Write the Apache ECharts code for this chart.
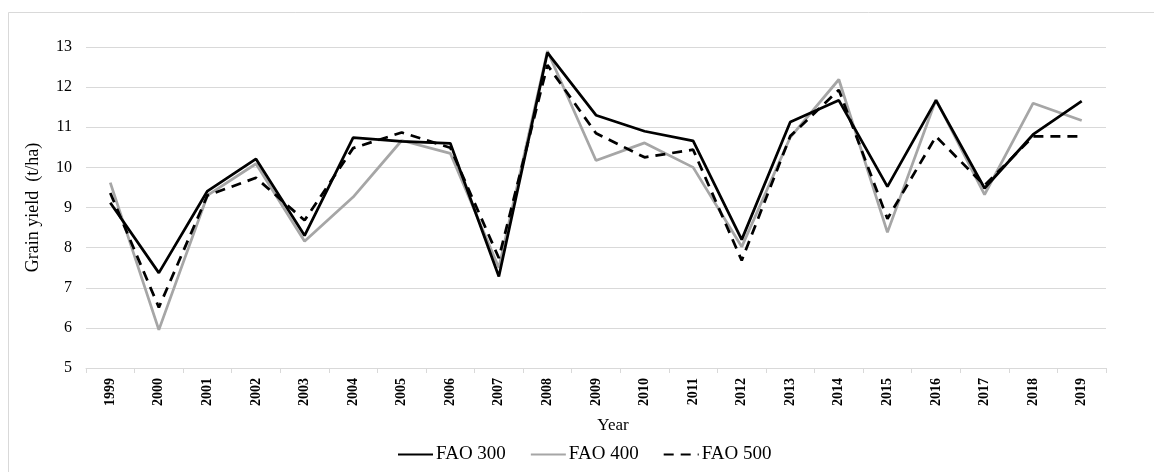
<!DOCTYPE html>
<html>
<head>
<meta charset="utf-8">
<script src="https://cdn.jsdelivr.net/npm/echarts@6/dist/echarts.min.js"></script>
<style>
html,body{margin:0;padding:0;background:#fff;}
#chart{width:1154px;height:472px;}
</style>
</head>
<body>
<div id="chart"></div>
<script>
const years = ['1999','2000','2001','2002','2003','2004','2005','2006','2007','2008','2009','2010','2011','2012','2013','2014','2015','2016','2017','2018','2019'];
const fao300 = [9.12, 7.37, 9.41, 10.21, 8.30, 10.74, 10.65, 10.60, 7.28, 12.86, 11.30, 10.90, 10.66, 8.20, 11.13, 11.67, 9.52, 11.67, 9.48, 10.82, 11.65];
const fao400 = [9.62, 5.95, 9.30, 10.09, 8.16, 9.26, 10.67, 10.35, 7.50, 12.90, 10.17, 10.61, 10.00, 8.02, 10.75, 12.19, 8.38, 11.69, 9.32, 11.60, 11.17];
const fao500 = [9.36, 6.51, 9.30, 9.74, 8.68, 10.48, 10.87, 10.49, 7.74, 12.55, 10.85, 10.25, 10.44, 7.68, 10.78, 11.93, 8.72, 10.77, 9.55, 10.77, 10.77];
const yTicks = {min: 5, max: 13, interval: 1};

const chart = echarts.init(document.getElementById('chart'));
const serif = '"Liberation Serif", "DejaVu Serif", serif';
chart.setOption({
  animation: false,
  backgroundColor: '#fff',
  textStyle: {fontFamily: serif},
  graphic: [
    {type: 'rect', shape: {x: 8.5, y: 12.5, width: 1160, height: 480}, style: {fill: 'none', stroke: '#d9d9d9', lineWidth: 1}, silent: true}
  ],
  grid: {left: 86, right: 48, top: 47, bottom: 104},
  legend: {
    left: 392, top: 440,
    itemWidth: 35, itemHeight: 14, itemGap: 24,
    itemStyle: {opacity: 0},
    textStyle: {fontFamily: serif, fontSize: 19, color: '#000', padding: [0,0,0,-2]},
    data: ['FAO 300', 'FAO 400', 'FAO 500']
  },
  xAxis: {
    type: 'category',
    data: years,
    boundaryGap: true,
    name: 'Year',
    nameLocation: 'middle',
    nameGap: 49,
    nameTextStyle: {fontFamily: serif, fontSize: 17, color: '#000', padding: [0,0,0,34]},
    axisLine: {lineStyle: {color: '#d9d9d9', width: 1}},
    axisTick: {show: true, length: 5, lineStyle: {color: '#d9d9d9'}},
    axisLabel: {rotate: 90, fontFamily: serif, fontWeight: 'bold', fontSize: 14, color: '#000', margin: 10}
  },
  yAxis: {
    type: 'value',
    min: yTicks.min, max: yTicks.max, interval: yTicks.interval,
    name: 'Grain yield  (t/ha)',
    nameLocation: 'middle',
    nameGap: 44,
    nameTextStyle: {fontFamily: serif, fontSize: 18, color: '#000'},
    axisLine: {show: false},
    axisTick: {show: false},
    splitLine: {lineStyle: {color: '#d9d9d9', width: 1}},
    axisLabel: {fontFamily: serif, fontSize: 16, color: '#000', margin: 14}
  },
  series: [
    {name: 'FAO 300', type: 'line', data: fao300, symbol: 'none', lineStyle: {color: '#000', width: 2.75}, itemStyle: {color: '#000'}, z: 3},
    {name: 'FAO 400', type: 'line', data: fao400, symbol: 'none', lineStyle: {color: '#a6a6a6', width: 2.75}, itemStyle: {color: '#a6a6a6'}, z: 2},
    {name: 'FAO 500', type: 'line', data: fao500, symbol: 'none', lineStyle: {color: '#000', width: 2.75, type: [10, 7]}, itemStyle: {color: '#000'}, z: 4}
  ]
});
</script>
</body>
</html>
